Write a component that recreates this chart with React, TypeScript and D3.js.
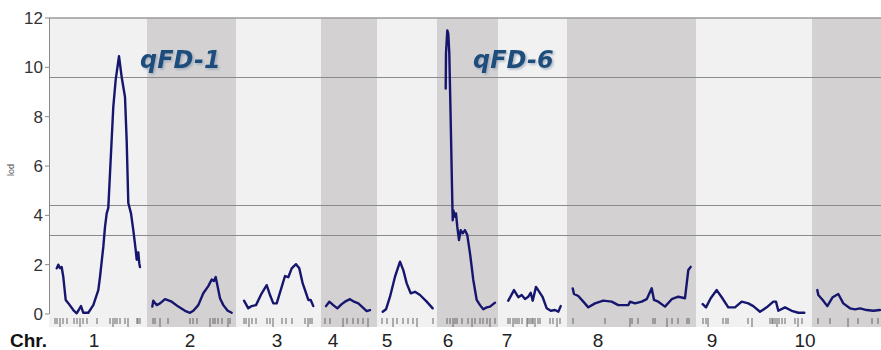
import React from 'react';
import * as d3 from 'd3';

// chromosome names and lengths (cM)
const chromosomes = ['1', '2', '3', '4', '5', '6', '7', '8', '9', '10'];
const chrLengths = [98, 89, 85, 56, 60, 61, 69, 129, 116, 72];
// genome-wide positions of the chromosome labels under the axis
const chrLabelPos = [45, 141, 228, 284, 338, 399, 458, 549, 663, 756];

// LOD profile per chromosome: [position within chromosome (cM), LOD]
const lod1 = [[7.7, 1.85], [9.3, 2.0], [11, 1.86], [12.7, 1.9], [14.3, 1.5], [16.7, 0.57], [19.3, 0.44], [24.3, 0.16], [27.7, 0.03], [32, 0.32], [34.3, 0.05], [39.3, 0.05], [44.3, 0.36], [49.3, 0.97], [51, 1.5], [54.3, 2.72], [56, 3.53], [57.7, 4.08], [59.3, 4.3], [61, 5.7], [64.3, 8.4], [66.7, 9.5], [70, 10.45], [72.7, 9.6], [76, 8.8], [77.7, 7.0], [79.3, 4.5], [82, 4.08], [84.3, 3.4], [86.7, 2.6], [87.7, 2.2], [89.3, 2.5], [90.3, 2.05], [91, 1.9]];
const lod2 = [[5.3, 0.3], [6.3, 0.54], [9.7, 0.36], [13, 0.43], [18, 0.6], [24.7, 0.5], [31.3, 0.3], [38, 0.13], [43, 0.05], [46.3, 0.13], [51.3, 0.36], [56.3, 0.84], [61.3, 1.13], [64.7, 1.4], [67, 1.34], [68.7, 1.5], [70.7, 1.1], [73, 0.64], [76.3, 0.36], [80.7, 0.13], [84.7, 0.05]];
const lod3 = [[8, 0.54], [12.3, 0.23], [15.7, 0.32], [20, 0.36], [25.7, 0.84], [30.7, 1.17], [34, 0.77], [37.3, 0.43], [40.7, 0.43], [45.7, 1.1], [49, 1.54], [52.3, 1.49], [55.7, 1.85], [60, 2.02], [63.3, 1.85], [66.7, 1.24], [70.7, 0.77], [72.3, 0.57], [74.7, 0.57], [77.3, 0.32]];
const lod4 = [[5, 0.32], [8.3, 0.5], [12.3, 0.36], [16.3, 0.23], [20.7, 0.4], [24, 0.5], [29, 0.6], [33, 0.5], [37.3, 0.43], [41.7, 0.27], [45.7, 0.12], [49, 0.16]];
const lod5 = [[5.7, 0.09], [9, 0.19], [13, 0.7], [18, 1.51], [23, 2.12], [26.3, 1.78], [29.7, 1.24], [33.7, 0.84], [38, 0.9], [43, 0.77], [49.7, 0.5], [55.7, 0.23]];
const lod6 = [[8.7, 9.14], [9, 10.57], [10.3, 11.5], [11.3, 11.36], [12.3, 10.57], [13.7, 7.85], [15, 5.15], [15.7, 3.8], [16.3, 4.2], [18, 3.94], [19, 4.08], [20.3, 3.53], [22, 3.0], [23.7, 3.4], [25.7, 3.27], [28, 3.4], [30.3, 3.2], [33, 2.46], [36.3, 1.38], [39.7, 0.57], [43, 0.36], [46.3, 0.19], [49.7, 0.27], [53, 0.3], [58, 0.46]];
const lod7 = [[10.3, 0.54], [16, 0.97], [20.3, 0.68], [23.7, 0.77], [27, 0.61], [30.3, 0.7], [32.7, 0.86], [34.7, 0.54], [38, 1.1], [41.3, 0.9], [44.7, 0.68], [48.7, 0.23], [52.7, 0.13], [57, 0.16], [60.3, 0.09], [62.7, 0.32]];
const lod8 = [[5.7, 1.04], [7, 0.81], [11.3, 0.73], [16.3, 0.5], [21.3, 0.27], [28, 0.43], [36.3, 0.54], [44.7, 0.5], [51.3, 0.36], [61.3, 0.36], [63, 0.5], [68, 0.43], [74.7, 0.5], [79.7, 0.6], [84.7, 1.04], [87, 0.57], [91.3, 0.5], [98, 0.3], [104.7, 0.6], [111.3, 0.7], [118, 0.64], [121.3, 1.78], [123.7, 1.91]];
const lod9 = [[6.7, 0.4], [10, 0.27], [14.7, 0.64], [20.7, 0.97], [25.7, 0.68], [32.3, 0.27], [39, 0.27], [45.7, 0.5], [52.3, 0.43], [57.3, 0.32], [64, 0.09], [70.7, 0.27], [77.3, 0.5], [80, 0.5], [82.3, 0.13], [89, 0.27], [95.7, 0.13], [102.3, 0.05], [108.3, 0.05]];
const lod10 = [[5.3, 0.97], [6.3, 0.77], [10.7, 0.57], [15.3, 0.32], [20.7, 0.68], [26.3, 0.81], [31.3, 0.43], [38, 0.23], [43, 0.19], [48, 0.23], [54.7, 0.16], [61.3, 0.13], [68, 0.16]];
const lodProfiles = [lod1, lod2, lod3, lod4, lod5, lod6, lod7, lod8, lod9, lod10];

// marker positions per chromosome (cM)
const markers = [
  [6, 8, 11, 14, 18, 25, 28, 31, 34, 38, 48, 61, 64, 66, 68, 71, 76, 79, 88, 89, 91],
  [6, 8, 13, 21, 43, 46, 50, 63, 66, 68, 71, 75, 81, 83],
  [8, 10, 13, 16, 20, 31, 34, 37, 46, 50, 56, 69, 72, 74, 76],
  [4, 9, 22, 26, 32, 37, 42, 47],
  [5, 10, 16, 20, 26, 31, 36, 40, 56],
  [10, 13, 16, 18, 20, 25, 31, 35, 38, 43, 46, 50, 53, 58],
  [10, 12, 15, 17, 19, 21, 24, 29, 30, 32, 34, 35, 37, 40, 42, 52, 55, 59, 62],
  [6, 38, 63, 65, 71, 86, 88, 100, 105, 111, 120, 122],
  [7, 10, 12, 27, 30, 32, 52, 56, 74, 76, 77, 79, 81, 83, 86, 89, 99, 102, 106],
  [6, 18, 36, 46, 60, 66],
];

// significance thresholds
const thresholds = [9.6, 4.4, 3.2];
const yTicks = [0, 2, 4, 6, 8, 10, 12];

// QTL annotations: chromosome index, position, label
const qtlChr = [0, 5];
const qtlPos = [91, 36];
const qtlNames = ['qFD-1', 'qFD-6'];

const W = 881;
const H = 350;

export default function App() {
  const starts = chrLengths.map((_, i) => d3.sum(chrLengths.slice(0, i)));
  const total = d3.sum(chrLengths);

  const x = d3.scaleLinear().domain([0, total]).range([49, 49 + total]);
  const y = d3.scaleLinear().domain([0, 12]).range([314, 18]);

  const line = d3.line<number[]>()
    .x(d => x(d[0]))
    .y(d => y(d[1]));

  const bandTop = 18;
  const bandBottom = 327;

  return (
    <svg width={W} height={H} style={{ position: 'absolute', left: 0, top: 0, background: '#fff' }}
      fontFamily="'Liberation Sans', Arial, sans-serif">
      <defs>
        <clipPath id="plot">
          <rect x={49} y={0} width={W - 49} height={H} />
        </clipPath>
        <filter id="shadow" x="-10%" y="-10%" width="130%" height="140%">
          <feDropShadow dx="1.5" dy="1.5" stdDeviation="1" floodColor="#8a9bb0" floodOpacity="0.7" />
        </filter>
      </defs>

      <g clipPath="url(#plot)">
        {chromosomes.map((c, i) => (
          <rect key={c}
            x={x(starts[i])}
            y={bandTop}
            width={x(starts[i] + chrLengths[i]) - x(starts[i])}
            height={bandBottom - bandTop}
            fill={i % 2 === 0 ? '#f1f1f1' : '#d3d1d2'} />
        ))}

        {/* top border */}
        <line x1={49} x2={W} y1={y(12)} y2={y(12)} stroke="#9a9a9a" strokeWidth={1.5} />

        {thresholds.map(t => (
          <line key={t} x1={49} x2={W} y1={Math.round(y(t)) + 0.5} y2={Math.round(y(t)) + 0.5}
            stroke="#8a8a8a" strokeWidth={1} />
        ))}

        {/* marker ticks */}
        {markers.map((ms, i) => ms.map((m, j) => (
          <line key={`${i}-${j}`}
            x1={x(starts[i] + m)} x2={x(starts[i] + m)}
            y1={318} y2={j % 5 === 2 ? 327 : 324}
            stroke="#666" strokeWidth={1} />
        )))}

        {lodProfiles.map((p, i) => (
          <path key={i}
            d={line(p.map(d => [starts[i] + d[0], d[1]])) || ''}
            fill="none" stroke="#16166e" strokeWidth={2.4}
            strokeLinejoin="round" strokeLinecap="round" />
        ))}
      </g>

      {/* y axis */}
      <line x1={49.5} x2={49.5} y1={y(12)} y2={y(0)} stroke="#8a8a8a" strokeWidth={1} />
      {yTicks.map(t => (
        <g key={t}>
          <line x1={45} x2={49} y1={y(t)} y2={y(t)} stroke="#8a8a8a" />
          <text x={43} y={y(t)} dy="0.36em" textAnchor="end" fontSize={17} fill="#333">{t}</text>
        </g>
      ))}
      <text transform={`translate(14, ${y(6) + 4}) rotate(-90)`} fontSize={9} fill="#555" textAnchor="middle">lod</text>

      {/* QTL labels */}
      {qtlNames.map((n, i) => (
        <text key={n}
          x={x(starts[qtlChr[i]] + qtlPos[i])}
          y={y(10) + 1}
          fontFamily="'DejaVu Sans', Verdana, sans-serif"
          fontWeight="bold" fontStyle="italic" fontSize={24}
          fill="#1e4d7c" filter="url(#shadow)">{n}</text>
      ))}

      {/* chromosome labels */}
      <text x={10} y={347} fontSize={19} fontWeight="bold" fill="#111">Chr.</text>
      {chromosomes.map((c, i) => (
        <text key={c} x={x(chrLabelPos[i])} y={347} textAnchor="middle" fontSize={19} fill="#222">{c}</text>
      ))}
    </svg>
  );
}
